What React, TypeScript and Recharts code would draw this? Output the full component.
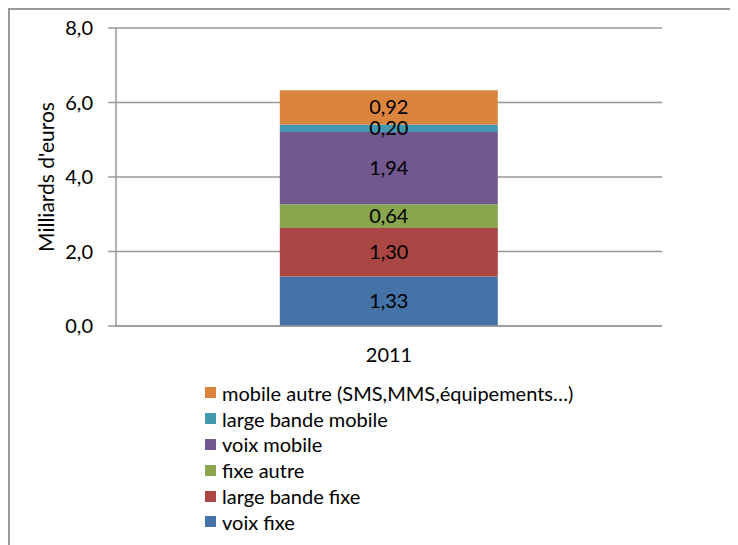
import React from 'react';
import { BarChart, Bar, XAxis, YAxis, CartesianGrid, LabelList, Legend } from 'recharts';

const categories = ['2011'];
const voixFixe = [1.33];
const largeBandeFixe = [1.3];
const fixeAutre = [0.64];
const voixMobile = [1.94];
const largeBandeMobile = [0.2];
const mobileAutre = [0.92];

const seriesKeys = ['voixFixe', 'largeBandeFixe', 'fixeAutre', 'voixMobile', 'largeBandeMobile', 'mobileAutre'];
const seriesNames = [
  'voix fixe',
  'large bande fixe',
  'fixe autre',
  'voix mobile',
  'large bande mobile',
  'mobile autre (SMS,MMS,équipements…)',
];
const seriesColors = ['#4572A7', '#AA4643', '#89A54E', '#71588F', '#4198AF', '#DB843D'];
const seriesValues = [voixFixe, largeBandeFixe, fixeAutre, voixMobile, largeBandeMobile, mobileAutre];

const yTicks = [0, 2, 4, 6, 8];

const data = categories.map((c, i) => {
  const row: Record<string, string | number> = { year: c };
  seriesKeys.forEach((k, s) => {
    row[k] = seriesValues[s][i];
  });
  return row;
});

const GRAY = '#989898';
const FONT = 'Lato, "Open Sans", sans-serif';

const fmt2 = (v: any) => Number(v).toFixed(2).replace('.', ',');
const fmt1 = (v: any) => Number(v).toFixed(1).replace('.', ',');

const LegendContent = () => (
  <div style={{ fontFamily: FONT, fontSize: 20, color: '#000' }}>
    {seriesNames
      .map((n, i) => ({ n, c: seriesColors[i] }))
      .reverse()
      .map((it) => (
        <div key={it.n} style={{ display: 'flex', alignItems: 'center', height: 25.8, whiteSpace: 'nowrap' }}>
          <span style={{ display: 'inline-block', width: 11, height: 11, background: it.c, marginRight: 6 }} />
          <span>{it.n}</span>
        </div>
      ))}
  </div>
);

const YLabel = (props: any) => {
  const vb = props.viewBox || {};
  const x = vb.x + 25;
  const y = vb.y + vb.height / 2;
  return (
    <text
      x={x}
      y={y}
      transform={`rotate(-90, ${x}, ${y})`}
      textAnchor="middle"
      dominantBaseline="central"
      fill="#000"
      fontSize={21}
      fontFamily={FONT}
    >
      Milliards d'euros
    </text>
  );
};

export default function App() {
  return (
    <div
      style={{
        position: 'relative',
        width: 730,
        height: 537,
        borderLeft: `2px solid ${GRAY}`,
        borderTop: `2px solid ${GRAY}`,
        boxSizing: 'border-box',
        fontFamily: FONT,
        background: '#fff',
      }}
    >
      <BarChart
        width={728}
        height={535}
        data={data}
        margin={{ top: 18, right: 76, left: 10, bottom: 179 }}
        barCategoryGap="30%"
      >
        <CartesianGrid vertical={false} stroke={GRAY} strokeWidth={1.5} />
        <XAxis
          xAxisId="edge"
          type="number"
          domain={[0, 1]}
          ticks={[0, 1]}
          tick={false}
          axisLine={false}
          tickLine={{ stroke: GRAY, strokeWidth: 1.5 }}
          tickSize={7}
          height={0}
        />
        <XAxis
          dataKey="year"
          tickLine={false}
          axisLine={{ stroke: GRAY, strokeWidth: 1.5 }}
          tick={{ fontSize: 20, fill: '#000' }}
          tickMargin={16}
          height={40}
        />
        <YAxis
          domain={[0, 8]}
          ticks={yTicks}
          tickFormatter={fmt1}
          width={96}
          axisLine={{ stroke: GRAY, strokeWidth: 1.5 }}
          tickLine={{ stroke: GRAY, strokeWidth: 1.5 }}
          tickSize={8}
          tickMargin={15}
          tick={{ fontSize: 20, fill: '#000' }}
          label={<YLabel />}
        />
        <Legend
          layout="vertical"
          verticalAlign="middle"
          align="center"
          content={<LegendContent />}
          wrapperStyle={{ top: 370, left: 195, width: 'auto', height: 'auto' }}
        />
        {seriesKeys.map((k, i) => (
          <Bar key={k} dataKey={k} name={seriesNames[i]} stackId="a" fill={seriesColors[i]} isAnimationActive={false}>
            <LabelList dataKey={k} position="center" formatter={fmt2} fill="#000" fontSize={20} fontFamily={FONT} />
          </Bar>
        ))}
      </BarChart>
    </div>
  );
}
